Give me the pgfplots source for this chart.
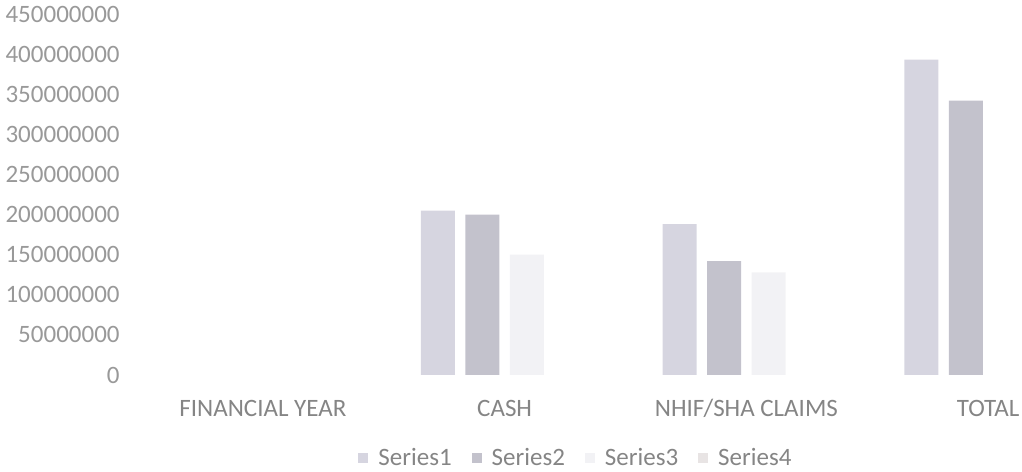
\documentclass[border=0pt]{standalone}
\usepackage{pgfplots}
\pgfplotsset{compat=1.18}
\usepackage{fontspec}
\setmainfont{Carlito}
\definecolor{sA}{HTML}{D6D5E0}
\definecolor{sB}{HTML}{C3C2CC}
\definecolor{sC}{HTML}{F2F2F5}
\definecolor{sD}{HTML}{E8E4E4}
\definecolor{tickgray}{HTML}{999999}
\definecolor{labgray}{HTML}{858585}
\begin{document}
\begin{tikzpicture}
\path[use as bounding box] (0pt,0pt) rectangle (511pt,235.5pt);
\begin{axis}[
  at={(71pt,48pt)}, anchor=south west,
  scale only axis, width=440pt, height=180.5pt,
  ybar, bar width=0.1405,
  xmin=-0.5, xmax=3.14, ymin=0, ymax=450000000,
  clip=true,
  axis line style={draw=none},
  major tick length=0pt, tick style={draw=none},
  xtick={0,1,2,3},
  xticklabels={FINANCIAL YEAR, CASH, NHIF/SHA CLAIMS, TOTAL},
  ytick={0,50000000,100000000,150000000,200000000,250000000,300000000,350000000,400000000,450000000},
  scaled y ticks=false,
  yticklabel style={/pgf/number format/fixed, /pgf/number format/precision=0,
    /pgf/number format/1000 sep={}, /pgf/number format/assume math mode=true,
    anchor=east, inner sep=0pt, xshift=-11pt,
    font=\fontsize{12.5}{15}\selectfont, text=tickgray},
  xticklabel style={anchor=base, inner sep=0pt, yshift=-20.5pt,
    font=\fontsize{12.5}{15}\selectfont, text=labgray},
  legend style={at={(0.492,-0.23)}, anchor=center, draw=none, fill=none,
    legend columns=4, inner sep=0pt,
    nodes={inner sep=0pt, text=labgray},
    font=\fontsize{12.5}{15}\selectfont,
    /tikz/every odd column/.append style={column sep=5pt},
    /tikz/every even column/.append style={column sep=10pt}},
  legend image code/.code={\fill[#1,/tikz/.cd] (0pt,-2.5pt) rectangle (5pt,2.5pt);},
]
\addplot[fill=sA, draw=none, bar shift=-0.276] coordinates {(1,205000000) (2,188000000) (3,393000000)};
\addlegendentry{Series1}
\addplot[fill=sB, draw=none, bar shift=-0.092] coordinates {(1,200000000) (2,142000000) (3,342000000)};
\addlegendentry{Series2}
\addplot[fill=sC, draw=none, bar shift=0.092] coordinates {(1,150000000) (2,128000000)};
\addlegendentry{Series3}
\addlegendimage{fill=sD, draw=none}
\addlegendentry{Series4}
\end{axis}
\end{tikzpicture}
\end{document}
